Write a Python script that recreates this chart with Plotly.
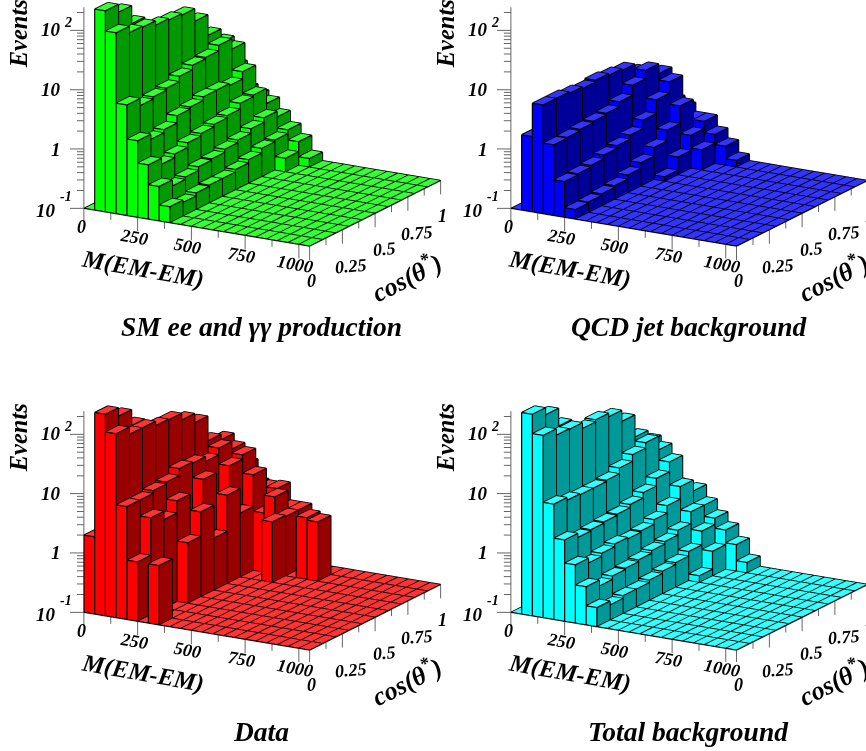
import math
import plotly.graph_objects as go

# ---------- chart data: Events per bin, rows = M bin (50 wide), columns = cos(theta*) bin (0.1 wide)
SM = [
 [0,0,0,0,0,0,0,0,0,0],
 [245,180,89,55,45,40,30,12,6,2],
 [112,87,83,70,66,62,38,17,10,3],
 [7.3,5.5,6.0,6.5,8,9.5,10,12.4,8.3,1.3],
 [1.95,1.6,1.8,2.4,2.6,3.0,3.0,2.8,3.7,1.1],
 [.82,.65,.75,.9,1.0,1.1,1.2,1.5,1.6,.89],
 [.38,.3,.33,.38,.4,.45,.5,.6,.71,.57],
 [.186,.17,.19,.2,.2,.22,.25,.3,.32,.37],
 [0,0,0,0,0,0,0,0,.17,.25],
 [0,0,0,0,0,0,0,0,0,.14],
]
QCD = [
 [0,0,0,0,0,0,0,0,0,0],
 [1.86,2,2,2,2,2,1.5,1,.7,.5],
 [6.8,6.8,6.4,6,6.4,6,5.6,4,3,.7],
 [1.55,1.6,1.7,1.8,1.9,2.3,3.4,4.7,3.2,.83],
 [.4,.42,.45,.52,.58,.68,.94,1.6,2.5,.68],
 [.145,.15,.16,.17,.2,.25,.35,.53,1.05,.48],
 [0,0,0,0,0,0,.12,.2,.36,.48],
 [0,0,0,0,0,0,0,0,.22,.31],
 [0,0,0,0,0,0,0,0,0,.21],
 [0,0,0,0,0,0,0,0,0,.13],
]
DATA = [
 [2,0,0,0,0,0,0,0,0,0],
 [250,180,97,55,45,40,25,12,6,3],
 [126,95,95,80,78,60,42,16,13,5],
 [8,8,8.9,9.6,12.6,12,10,13,9.7,4],
 [1,4.3,3.1,5,2,6.9,1.44,7,8.3,2],
 [0,0,0,1.05,2.7,.76,3.1,1.2,4.1,1.9],
 [1,0,0,0,0,0,0,0,1,2],
 [0,0,0,0,0,0,0,0,2,1],
 [0,0,0,0,0,0,0,1.05,1,1],
 [0,0,0,0,0,0,0,0,0,0],
 [0,0,0,0,0,0,0,0,1.1,0],
 [0,0,0,0,0,0,0,0,1,0],
]
TOTAL = [
 [0,0,0,0,0,0,0,0,0,0],
 [250,190,95,55,45,40,30,10,5,2],
 [118,92,90,72,78,68,44,18.6,12,3],
 [8.8,7.9,7.6,7.6,8,10,13,16,9.4,1.87],
 [2.35,2.0,2.1,2.2,2.3,2.6,3.2,4.3,6.3,1.55],
 [.96,.8,.9,1,.95,1,1.2,1.6,2.6,1.7],
 [.44,.35,.4,.42,.45,.5,.55,.66,1.05,1.05],
 [.21,.18,.2,.2,.22,.24,.26,.31,.53,.68],
 [0,0,0,0,0,0,0,.13,.26,.46],
 [0,0,0,0,0,0,0,0,0,.28],
 [0,0,0,0,0,0,0,0,0,.15],
]
TITLES = ["SM ee and γγ production", "QCD jet background", "Data", "Total background"]
TITLE_X = [261, 689, 261, 688]
TITLE_Y = [326, 326, 731, 731]
X_TICKS = [0, 250, 500, 750, 1000]
Y_TICKS = [0, 0.25, 0.5, 0.75, 1]
Y_TICK_TEXT = ["0", "0.25", "0.5", "0.75", "1"]
COLORS = [("#00ff00", "#33ff33", "#009900"),
          ("#0000ff", "#3333ff", "#000099"),
          ("#ff0000", "#ff3333", "#990000"),
          ("#00ffff", "#33ffff", "#009999")]
TABLES = [SM, QCD, DATA, TOTAL]
OFFSETS = [(0, 0), (427, 0), (0, 404), (427, 404)]

W, H = 866, 751
XMAX, YMAX = 1050.0, 1.0
ZMIN, ZMAX = -1.0, 2.39
NX, NY = 21, 10
# screen geometry of the ROOT lego frame (pixels)
PX_X = (226.7, 38.0)
PX_Y = (131.7, -66.0)
PX_Z = 59.6
ORI = (83.3, 208.7)
s2 = (38.0/226.7) * (66.0/131.7)
sin_e = math.sqrt(s2)
tan_a = (38.0/226.7) / sin_e
ALPHA = math.atan(tan_a)
ELEV = math.asin(sin_e)
LEN_X = 226.7 / math.cos(ALPHA)
LEN_Y = 131.7 / math.sin(ALPHA)
LEN_Z = PX_Z / math.cos(ELEV)  # per decade

RX = (-70.0, 1065.0)
RY = (-0.045, 1.012)
RZ = (-1.32, 2.41)

PW = 131.6          # pixels per world unit (orthographic scale for this domain height)
EYE_D = 2.0
LIFT = 0.006        # edges sit this far (world units) towards the viewer, so they win the depth test
DOM_W, DOM_H = 445.0, 262.0
DOM_X = [0, 421, 0, 421]
DOM_Y = [0, 0, 400, 400]
sa, ca = math.sin(ALPHA), math.cos(ALPHA)
se, ce = math.sin(ELEV), math.cos(ELEV)
R = (ca, sa, 0)
U = (-sa * se, ca * se, ce)
E = (sa * ce, -ca * ce, se)
LIFT_X = LIFT * E[0] * PW * XMAX / LEN_X
LIFT_Y = LIFT * E[1] * PW * YMAX / LEN_Y
LIFT_Z = LIFT * E[2] * PW / LEN_Z


def px(x, y, z, off):
    return (ORI[0] + off[0] + x / XMAX * PX_X[0] + y / YMAX * PX_Y[0],
            ORI[1] + off[1] + x / XMAX * PX_X[1] + y / YMAX * PX_Y[1] - (z - ZMIN) * PX_Z)


def lz(v):
    return max(math.log10(v), ZMIN) if v > 0 else ZMIN


def lego(table, cols):
    vx, vy, vz, fi, fj, fk, fc = [], [], [], [], [], [], []
    ex, ey, ez = [], [], []
    front, top, dark = cols

    def quad(p, col):
        n = len(vx)
        for a in p:
            vx.append(a[0]); vy.append(a[1]); vz.append(a[2])
        fi.extend([n, n]); fj.extend([n + 1, n + 2]); fk.extend([n + 2, n + 3])
        fc.extend([col, col])

    def seg(a, b):
        ex.extend([a[0] + LIFT_X, b[0] + LIFT_X, None])
        ey.extend([a[1] + LIFT_Y, b[1] + LIFT_Y, None])
        ez.extend([a[2] + LIFT_Z, b[2] + LIFT_Z, None])

    dx, dy = XMAX / NX, YMAX / NY
    for i in range(NX):
        row = table[i] if i < len(table) else [0] * NY
        for j in range(NY):
            x0, x1 = i * dx, (i + 1) * dx
            y0, y1 = j * dy, (j + 1) * dy
            z = lz(row[j])
            quad([(x0, y0, z), (x1, y0, z), (x1, y1, z), (x0, y1, z)], top)
            c = [(x0, y0, z), (x1, y0, z), (x1, y1, z), (x0, y1, z)]
            for a in range(4):
                seg(c[a], c[(a + 1) % 4])
            if z > ZMIN:
                quad([(x0, y0, ZMIN), (x1, y0, ZMIN), (x1, y0, z), (x0, y0, z)], front)
                quad([(x1, y0, ZMIN), (x1, y1, ZMIN), (x1, y1, z), (x1, y0, z)], dark)
                seg((x0, y0, ZMIN), (x0, y0, z))
                seg((x1, y0, ZMIN), (x1, y0, z))
                seg((x1, y1, ZMIN), (x1, y1, z))
                seg((x0, y0, ZMIN), (x1, y0, ZMIN))
                seg((x1, y0, ZMIN), (x1, y1, ZMIN))
    return vx, vy, vz, fi, fj, fk, fc, ex, ey, ez


def axes():
    ex, ey, ez = [], [], []

    def seg(a, b):
        ex.extend([a[0], b[0], None]); ey.extend([a[1], b[1], None]); ez.extend([a[2], b[2], None])

    seg((0, 0, ZMIN), (0, 0, ZMAX))
    for n in range(9):
        x = n * 125
        ln = 14 if n % 2 == 0 else 7
        seg((x, 0, ZMIN), (x, 0, ZMIN - ln / PX_Z))
    for n in range(9):
        y = n * 0.125
        ln = 14 if n % 2 == 0 else 7
        seg((XMAX, y, ZMIN), (XMAX, y, ZMIN - ln / PX_Z))
    cx = math.cos(ALPHA) * XMAX / LEN_X
    cy = math.sin(ALPHA) * YMAX / LEN_Y
    for d in (-1, 0, 1, 2):
        for m in range(1, 10):
            z = d + math.log10(m)
            if z > ZMAX:
                continue
            ln = 14 if m == 1 else 7
            seg((0, 0, z), (-ln * cx, -ln * cy, z))
    return ex, ey, ez


def txt(x, y, z, s, size, sx=0, sy=0, ang=0):
    return dict(x=x, y=y, z=z, text="<b><i>%s</i></b>" % s, showarrow=False,
                xanchor="center", yanchor="middle", xshift=sx, yshift=sy, textangle=ang,
                font=dict(family="Liberation Serif", size=size, color="black"))


def scene_annots():
    out = []
    out.append(txt(0, 0, 2, "10", 19, -33, 1))
    out.append(txt(0, 0, 2, "2", 14, -16, 8))
    out.append(txt(0, 0, 1, "10", 19, -33, 0))
    out.append(txt(0, 0, 0, "1", 19, -28, 0))
    out.append(txt(0, 0, -1, "10", 19, -38, -2))
    out.append(txt(0, 0, -1, "-1", 14, -18, 12))
    for v in X_TICKS:
        sx, sy = (-2, -19) if v == 0 else (-4, -20)
        out.append(txt(v, 0, ZMIN, str(v), 18, sx, sy, 0 if v == 0 else 10))
    for v, s in zip(Y_TICKS, Y_TICK_TEXT):
        sx, sy = (2, -35) if v == 0 else ((2, -36) if v == 1 else (9, -36))
        out.append(txt(XMAX, v, ZMIN, s, 18, sx, sy, 0 if v in (0, 1) else -5))
    out.append(txt(525, 0, ZMIN, "M(EM-EM)", 24.5, -54, -42, 10))
    out.append(txt(XMAX, 0.5, ZMIN, "cos(θ<sup>*</sup>)", 26, 31, -63, -27))
    out.append(txt(0, 0, 1.95, "Events", 24.5, -66, 0, -90))
    return out


fig = go.Figure()
lay = {}
ax_x, ax_y, ax_z = axes()
for n, (table, cols, off) in enumerate(zip(TABLES, COLORS, OFFSETS)):
    sid = "scene" if n == 0 else "scene%d" % (n + 1)
    vx, vy, vz, fi, fj, fk, fc, ex, ey, ez = lego(table, cols)
    fig.add_trace(go.Mesh3d(x=vx, y=vy, z=vz, i=fi, j=fj, k=fk, facecolor=fc, flatshading=True,
                            lighting=dict(ambient=1, diffuse=0, specular=0, roughness=1, fresnel=0),
                            hoverinfo="skip", showscale=False, scene=sid))
    fig.add_trace(go.Scatter3d(x=ex, y=ey, z=ez, mode="lines", line=dict(color="#000000", width=2.4),
                               hoverinfo="skip", showlegend=False, scene=sid))
    fig.add_trace(go.Scatter3d(x=ax_x, y=ax_y, z=ax_z, mode="lines", line=dict(color="#666666", width=2),
                               hoverinfo="skip", showlegend=False, scene=sid))
    ax_len = (RX[1] - RX[0]) / XMAX * LEN_X
    ay_len = (RY[1] - RY[0]) / YMAX * LEN_Y
    az_len = (RZ[1] - RZ[0]) * LEN_Z
    bc = px(sum(RX) / 2, sum(RY) / 2, sum(RZ) / 2, off)
    dom_cx = DOM_X[n] + DOM_W / 2
    dom_cy = DOM_Y[n] + DOM_H / 2
    dX = (dom_cx - bc[0]) / PW
    dY = -(dom_cy - bc[1]) / PW
    C = [dX * R[k] + dY * U[k] for k in range(3)]
    eye = [C[k] + EYE_D * E[k] for k in range(3)]
    lay[sid] = dict(
        domain=dict(x=[DOM_X[n] / W, min(1, (DOM_X[n] + DOM_W) / W)],
                    y=[1 - (DOM_Y[n] + DOM_H) / H, 1 - DOM_Y[n] / H]),
        xaxis=dict(visible=False, range=list(RX)),
        yaxis=dict(visible=False, range=list(RY)),
        zaxis=dict(visible=False, range=list(RZ)),
        aspectmode="manual",
        aspectratio=dict(x=ax_len / PW, y=ay_len / PW, z=az_len / PW),
        camera=dict(projection=dict(type="orthographic"),
                    eye=dict(x=eye[0], y=eye[1], z=eye[2]),
                    center=dict(x=C[0], y=C[1], z=C[2]),
                    up=dict(x=0, y=0, z=1)),
        annotations=scene_annots(),
        bgcolor="rgba(0,0,0,0)",
    )

annots = []
for t, x, y in zip(TITLES, TITLE_X, TITLE_Y):
    annots.append(dict(x=x / W, y=1 - y / H, xref="paper", yref="paper", text="<b><i>%s</i></b>" % t,
                       showarrow=False, xanchor="center", yanchor="middle",
                       font=dict(family="Liberation Serif", size=27.5, color="black")))

fig.update_layout(width=W, height=H, margin=dict(l=0, r=0, t=0, b=0), paper_bgcolor="white",
                  showlegend=False, annotations=annots, **lay)
fig.write_html("out.html", config=dict(displayModeBar=False, responsive=False),
               post_script="document.body.style.margin='0';document.documentElement.style.overflow='hidden';")
